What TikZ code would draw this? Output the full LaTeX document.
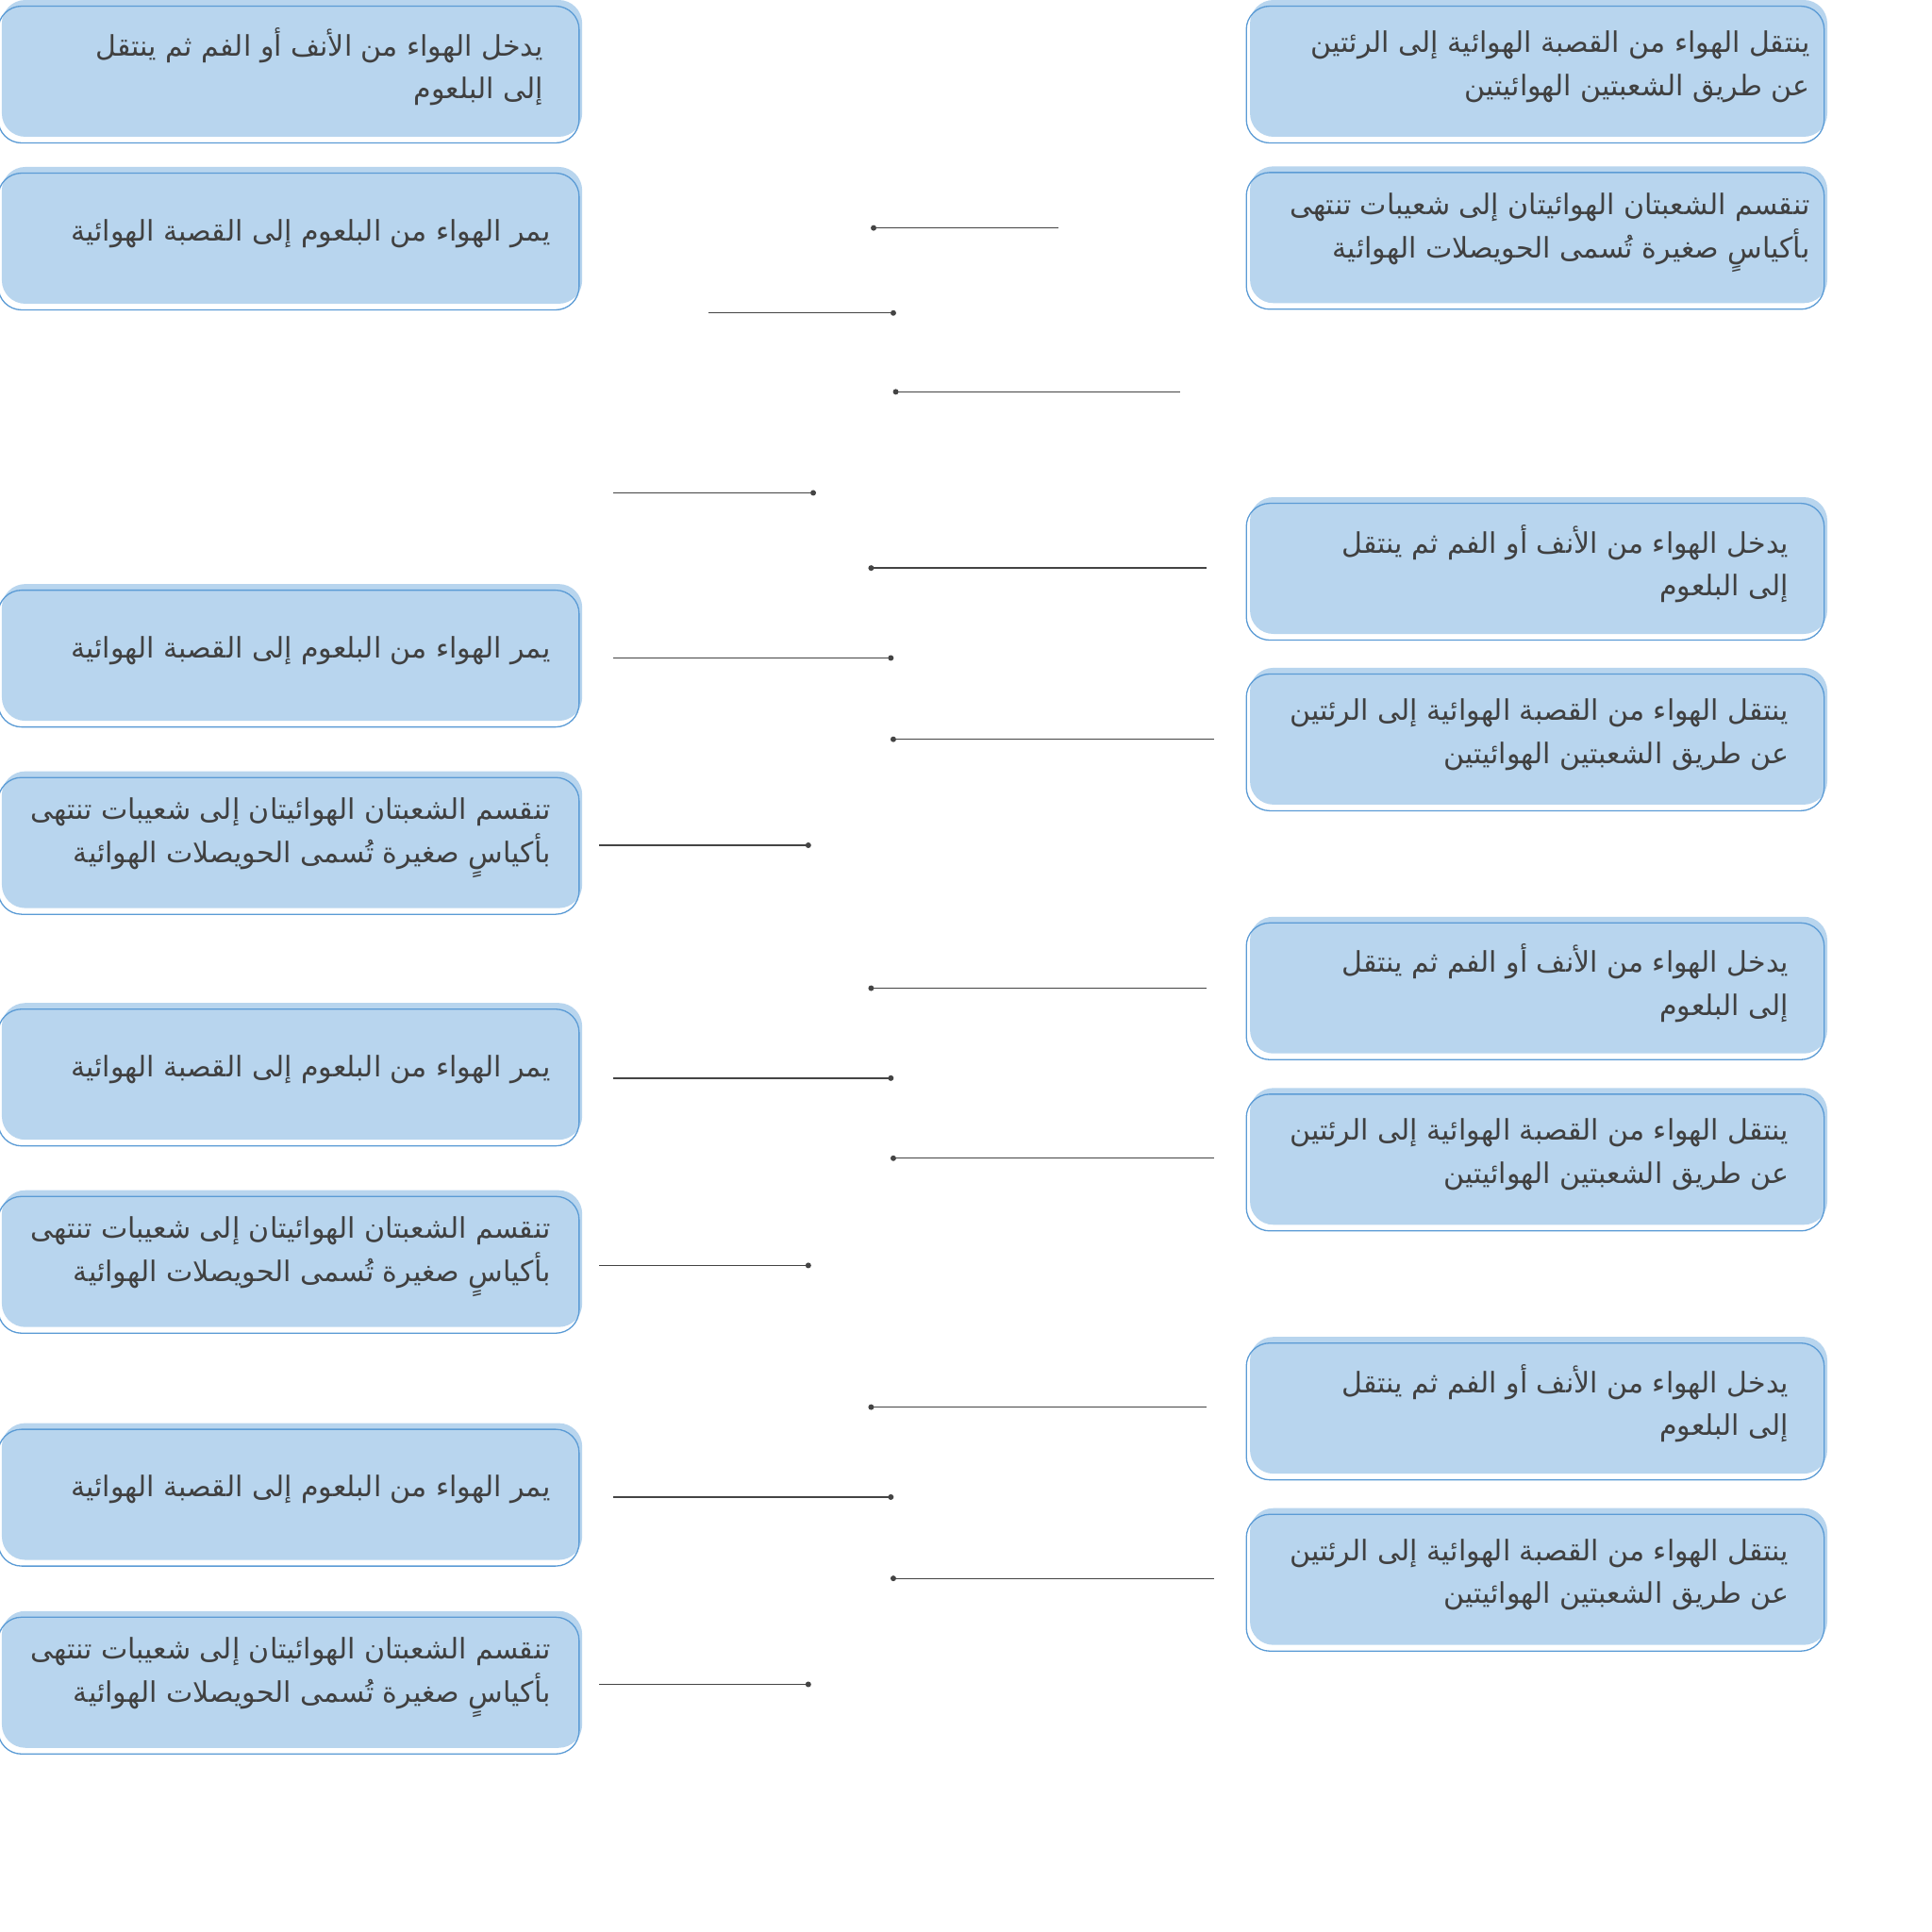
\documentclass[tikz,border=0pt]{standalone}
\usepackage{fontspec}
\TeXXeTstate=1
\newfontfamily\arabicfont[Script=Arabic]{DejaVu Sans}
\definecolor{boxfill}{HTML}{B8D5EE}
\definecolor{boxline}{HTML}{5B9BD5}
\definecolor{txtcol}{HTML}{404040}
\definecolor{linecol}{HTML}{444444}
\tikzset{
  fillbox/.style={rectangle, rounded corners=19pt, fill=boxfill, draw=none,
    minimum height=111pt, inner sep=0pt, outer sep=0pt, anchor=north west},
  outbox/.style={draw=boxline, line width=1pt, rounded corners=19pt},
  txt/.style={font=\arabicfont\fontsize{23}{35}\selectfont, text=txtcol,
    align=right, inner sep=0pt, anchor=east},
  conn/.style={draw=linecol, line width=1pt},
  dotend/.style={fill=linecol}
}
\newcommand\mybox[4]{%
  \node[fillbox, minimum width=#4pt] (#1) at (#2,#3) {};
  \draw[outbox] ([xshift=-3pt,yshift=-5pt]#1.north west) rectangle ([xshift=-2.5pt,yshift=-5pt]#1.south east);
}
\newcommand\myconn[4]{% name, xdot, xfree, y
  \coordinate (#1d) at (#2,#4);
  \coordinate (#1f) at (#3,#4);
  \draw[conn] (#1d) -- (#1f);
  \fill[dotend] (#1d) circle (2.3pt);
}
\newcommand\LA{\beginR يدخل الهواء من الأنف أو الفم ثم ينتقل\endR\\\beginR إلى البلعوم\endR}
\newcommand\LB{\beginR يمر الهواء من البلعوم إلى القصبة الهوائية\endR}
\newcommand\LC{\beginR ينتقل الهواء من القصبة الهوائية إلى الرئتين\endR\\\beginR عن طريق الشعبتين الهوائيتين\endR}
\newcommand\LD{\beginR تنقسم الشعبتان الهوائيتان إلى شعيبات تنتهى\endR\\\beginR بأكياسٍ صغيرة تُسمى الحويصلات الهوائية\endR}
\begin{document}
\begin{tikzpicture}[x=1pt,y=-1pt]
\useasboundingbox (0,0) rectangle (1568,1568);
% left column boxes
\mybox{L1}{1.5}{0}{471}
\mybox{L2}{1.5}{135.5}{471}
\mybox{L3}{1.5}{474}{471}
\mybox{L4}{1.5}{626}{471}
\mybox{L5}{1.5}{814}{471}
\mybox{L6}{1.5}{966}{471}
\mybox{L7}{1.5}{1155}{471}
\mybox{L8}{1.5}{1307.5}{471}
% right column boxes
\mybox{R1}{1014.5}{0}{468.5}
\mybox{R2}{1014.5}{135}{468.5}
\mybox{R3}{1014.5}{403.5}{468.5}
\mybox{R4}{1014.5}{542}{468.5}
\mybox{R5}{1014.5}{744}{468.5}
\mybox{R6}{1014.5}{883}{468.5}
\mybox{R7}{1014.5}{1085}{468.5}
\mybox{R8}{1014.5}{1224}{468.5}
% texts
\node[txt] (L1t) at (441,54) {\LA};
\node[txt] (L2t) at (447,189.5) {\LB};
\node[txt] (L3t) at (447,528) {\LB};
\node[txt] (L4t) at (447,680) {\LD};
\node[txt] (L5t) at (447,868) {\LB};
\node[txt] (L6t) at (447,1020) {\LD};
\node[txt] (L7t) at (447,1209) {\LB};
\node[txt] (L8t) at (447,1361.5) {\LD};
\node[txt] (R1t) at (1469,54) {\LC};
\node[txt] (R2t) at (1469,189) {\LD};
\node[txt] (R3t) at (1452,457.5) {\LA};
\node[txt] (R4t) at (1452,596) {\LC};
\node[txt] (R5t) at (1452,798) {\LA};
\node[txt] (R6t) at (1452,937) {\LC};
\node[txt] (R7t) at (1452,1139) {\LA};
\node[txt] (R8t) at (1452,1278) {\LC};
% connectors
\myconn{c1}{709}{859}{185}
\myconn{c2}{725}{575}{254}
\myconn{c3}{727}{958}{318}
\myconn{c4}{660}{498}{400}
\myconn{c5}{707}{979}{461}
\myconn{c6}{723}{498}{534}
\myconn{c7}{725}{985}{600}
\myconn{c8}{656}{486}{686}
\myconn{c9}{707}{979}{802}
\myconn{c10}{723}{498}{875}
\myconn{c11}{725}{985}{940}
\myconn{c12}{656}{486}{1027}
\myconn{c13}{707}{979}{1142}
\myconn{c14}{723}{498}{1215}
\myconn{c15}{725}{985}{1281}
\myconn{c16}{656}{486}{1367}
\end{tikzpicture}
\end{document}
